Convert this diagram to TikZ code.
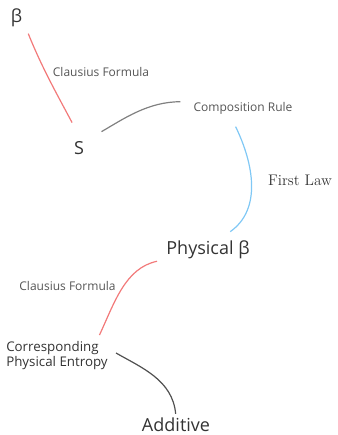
\documentclass[tikz,border=0pt]{standalone}
\usepackage{fontspec}
\newfontfamily\opensans{Open Sans}
\usetikzlibrary{positioning}

\definecolor{termgray}{HTML}{333333}
\definecolor{labelgray}{HTML}{555555}
\definecolor{linkred}{HTML}{F27A7A}
\definecolor{linkblue}{HTML}{80C8F5}
\definecolor{linkgray}{HTML}{808080}
\definecolor{linkdark}{HTML}{505050}

\begin{document}
\begin{tikzpicture}[
    x=0.75pt, y=0.75pt,
    % Style for the main quantities
    term/.style = {font=\opensans\fontsize{13.5}{16}\selectfont, text=termgray, inner sep=0pt},
    % Style for the small labels on the links
    tag/.style = {font=\opensans\fontsize{9}{11}\selectfont, text=labelgray, inner sep=0pt},
    % Style for the curved links
    link/.style = {line width=0.9pt}
]
    \useasboundingbox (0,0) rectangle (337,-435);

    % --- QUANTITIES ---
    \node[term] (beta) at (16.5,-17.5) {β};
    \node[term] (S) at (79,-148.5) {S};
    \node[tag] (comp) at (243,-108) {Composition Rule};
    \node[term] (phys) at (208,-250) {Physical β};
    \node[tag, font=\opensans\fontsize{10}{11.25}\selectfont, text=termgray,
          align=left, anchor=west] (corr) at (6,-355.5) {Corresponding\\Physical Entropy};
    \node[term] (add) at (176,-425) {Additive};

    % --- LABELS ---
    \node[tag] (clausA) at (101,-72) {Clausius Formula};
    \node[font=\fontsize{11.5}{13}\selectfont, text=termgray, inner sep=0pt] (first) at (300,-180) {First Law};
    \node[tag] (clausB) at (67.5,-286) {Clausius Formula};

    % --- LINKS ---
    \draw[link, linkred, shorten <=11.7pt, shorten >=16.2pt]
        (beta.-16) to[out=-68, in=118] (S.65);
    \draw[link, linkgray, shorten <=15pt, shorten >=9.75pt]
        (S.north east) to[out=30, in=180] (comp.north west);
    \draw[link, linkblue, shorten <=10.3pt, shorten >=11.8pt]
        (comp.-155) to[out=-64, in=35, looseness=1.1] (phys.45);
    \draw[link, linkred, shorten <=7pt, shorten >=5pt]
        (phys.south west) to[out=192, in=65] (corr.20);
    \draw[link, linkdark, shorten <=7pt, shorten >=3pt]
        (corr.8) to[out=-30, in=95] (add.north);

\end{tikzpicture}
\end{document}
